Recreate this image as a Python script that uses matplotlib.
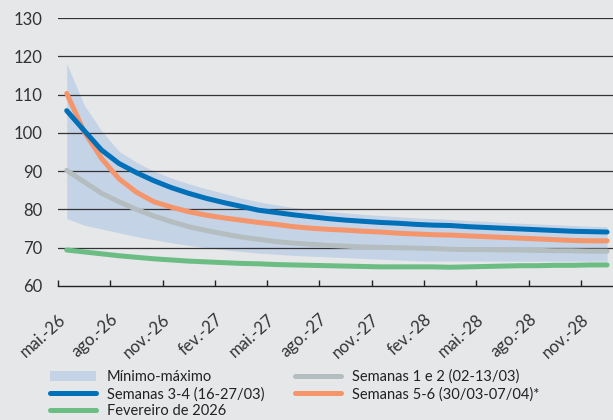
import matplotlib
matplotlib.use("Agg")
import matplotlib.pyplot as plt
import numpy as np
from matplotlib.patches import Patch
from matplotlib.lines import Line2D
from matplotlib.transforms import ScaledTranslation

plt.rcParams['font.family'] = ['Lato', 'DejaVu Sans']

tick_labels = ["mai.-26", "ago.-26", "nov.-26", "fev.-27", "mai.-27", "ago.-27",
               "nov.-27", "fev.-28", "mai.-28", "ago.-28", "nov.-28"]

band_max = [118.1, 107.3, 100.5, 95.2, 92.3, 90.0, 88.2, 86.7, 85.4, 84.2, 83.0, 82.0,
            81.2, 80.5, 80.0, 79.5, 79.1, 78.7, 78.4, 78.1, 77.8, 77.6, 77.4, 77.1,
            76.9, 76.6, 76.4, 76.2, 76.0, 75.8, 75.6, 75.5]
band_min = [77.6, 75.9, 74.9, 73.9, 72.9, 72.1, 71.3, 70.6, 70.0, 69.5, 69.0, 68.6,
            68.3, 68.0, 67.8, 67.6, 67.4, 67.2, 67.0, 66.8, 66.6, 66.5, 66.5, 66.5,
            66.5, 66.5, 66.5, 66.5, 66.5, 66.5, 66.5, 66.5]
sem12 = [90.2, 87.2, 84.2, 82.0, 80.0, 78.3, 76.8, 75.5, 74.5, 73.6, 72.8, 72.2,
         71.6, 71.2, 70.9, 70.6, 70.4, 70.2, 70.1, 70.0, 69.9, 69.8, 69.6, 69.5,
         69.5, 69.4, 69.4, 69.3, 69.2, 69.2, 69.1, 69.1]
sem34 = [105.8, 100.6, 95.5, 92.0, 89.6, 87.5, 85.7, 84.2, 82.9, 81.8, 80.8, 79.8,
         79.2, 78.6, 78.1, 77.6, 77.2, 76.9, 76.6, 76.4, 76.1, 75.9, 75.8, 75.5,
         75.3, 75.1, 74.9, 74.7, 74.5, 74.3, 74.2, 74.1]
sem56 = [110.3, 100.3, 93.3, 88.0, 84.5, 82.0, 80.6, 79.4, 78.5, 77.8, 77.2, 76.6,
         76.1, 75.5, 75.1, 74.8, 74.6, 74.3, 74.1, 73.8, 73.6, 73.4, 73.3, 73.1,
         72.9, 72.7, 72.5, 72.3, 72.1, 71.9, 71.8, 71.8]
fev26 = [69.4, 68.9, 68.4, 67.9, 67.5, 67.1, 66.8, 66.5, 66.3, 66.1, 65.9, 65.8,
         65.6, 65.5, 65.4, 65.3, 65.2, 65.1, 65.0, 65.0, 65.0, 65.0, 64.9, 65.0,
         65.1, 65.2, 65.3, 65.3, 65.4, 65.4, 65.5, 65.5]

BG = "#E6E7E8"
C_BAND = "#C5D3E6"
C_BLUE = "#0070B8"
C_ORANGE = "#F4956B"
C_GRAY = "#B4BEC0"
C_GREEN = "#6CBD84"

fig = plt.figure(figsize=(6.13, 4.2), dpi=100, facecolor=BG)
ax = fig.add_axes([58/613, 134/420, 1 - 58/613, 268/420])
ax.set_facecolor(BG)

x = np.arange(len(sem12)) + 0.5
lw = 3.6
ax.fill_between(x, band_min, band_max, color=C_BAND, lw=0, zorder=1)
ax.plot(x, sem12, color=C_GRAY, lw=lw, solid_capstyle='round', zorder=3)
ax.plot(x, fev26, color=C_GREEN, lw=lw, solid_capstyle='round', zorder=3)
ax.plot(x, sem56, color=C_ORANGE, lw=lw, solid_capstyle='round', zorder=4)
ax.plot(x, sem34, color=C_BLUE, lw=lw, solid_capstyle='round', zorder=5)

ax.set_xlim(0, 31.84)
ax.set_ylim(60, 130)
ax.set_yticks(np.arange(60, 131, 10))
for v in range(70, 131, 10):
    ax.axhline(v, color="#333333", lw=0.9, zorder=2)

ax.set_xticks(np.arange(0, 31, 3))
ax.set_xticklabels(tick_labels, rotation=42, ha='right', rotation_mode='anchor')
offset = ScaledTranslation(5/100, 0, fig.dpi_scale_trans)
for lab in ax.get_xticklabels():
    lab.set_transform(lab.get_transform() + offset)
for s in ['top', 'right', 'left']:
    ax.spines[s].set_visible(False)
ax.spines['bottom'].set_color('#222222')
ax.spines['bottom'].set_linewidth(1.0)
ax.tick_params(axis='x', direction='in', length=4, width=1, color='#222222',
               labelsize=12, labelcolor='#333333', pad=18)
ax.tick_params(axis='y', length=0, labelsize=12, labelcolor='#333333', pad=11)

handles = [
    Patch(facecolor=C_BAND, edgecolor='none'),
    Line2D([], [], color=C_BLUE, lw=lw, solid_capstyle='round'),
    Line2D([], [], color=C_GREEN, lw=lw, solid_capstyle='round'),
    Line2D([], [], color=C_GRAY, lw=lw, solid_capstyle='round'),
    Line2D([], [], color=C_ORANGE, lw=lw, solid_capstyle='round'),
]
labels = ["Mínimo-máximo", "Semanas 3-4 (16-27/03)", "Fevereiro de 2026",
          "Semanas 1 e 2 (02-13/03)", "Semanas 5-6 (30/03-07/04)*"]
fig.legend(handles, labels, ncol=2, loc='upper left', bbox_to_anchor=(38/613, 1 - 358/420),
           frameon=False, fontsize=10.5, handlelength=3.2, handleheight=0.65,
           labelspacing=0.2, columnspacing=2.1, handletextpad=0.7,
           labelcolor='#222222', borderpad=0.3)

fig.savefig("out.png", dpi=100, facecolor=BG)
